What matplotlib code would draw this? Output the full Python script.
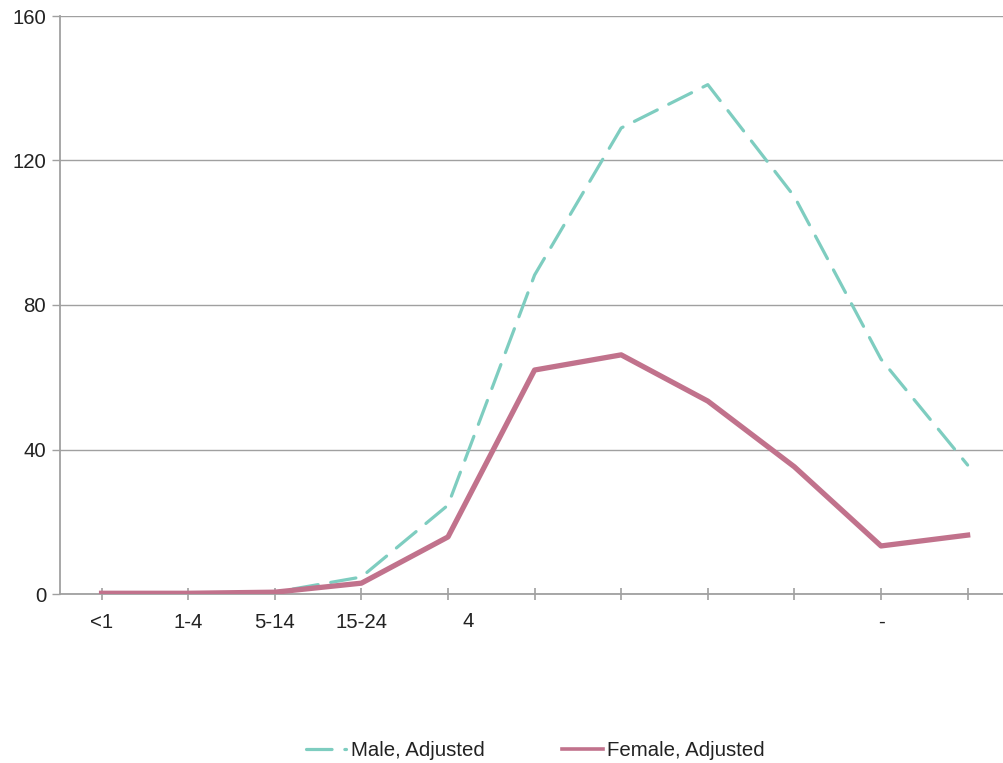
import matplotlib
matplotlib.use("Agg")
import matplotlib.pyplot as plt

# данные
age_groups = ['<1', '1-4', '5-14', '15-24', '', '', '', '', '', '-', '']
male_adj = [0.2, 0.2, 0.5, 4.7, 24.6, 88.3, 129.0, 141.0, 110.0, 65.0, 35.7]
female_adj = [0.2, 0.2, 0.5, 3.0, 15.8, 62.0, 66.2, 53.4, 35.2, 13.3, 16.3]
y_ticks = [0, 40, 80, 120, 160]
extra_label = '4'  # обрезанная подпись, стоит правее своей отметки

MALE_COLOR = '#7ecdc0'
FEMALE_COLOR = '#c1728c'
AXIS_COLOR = '#a0a0a0'
TEXT_COLOR = '#222222'
FS = 14.7

plt.rcParams['font.family'] = ['Liberation Sans', 'DejaVu Sans']

fig = plt.figure(figsize=(10.04, 7.63), dpi=100)
ax = fig.add_axes([60 / 1004, 1 - 594 / 763, 1 - 60 / 1004, (594 - 16) / 763])

x = list(range(len(age_groups)))
ax.plot(x, male_adj, color=MALE_COLOR, lw=2.3, dashes=(8, 4),
        dash_capstyle='round', label='Male, Adjusted', zorder=3)
ax.plot(x, female_adj, color=FEMALE_COLOR, lw=3.8,
        label='Female, Adjusted', zorder=4)

ax.set_ylim(0, 160)
ax.set_xlim(-0.48, 10.42)
ax.set_yticks(y_ticks)
ax.set_xticks(x)
ax.set_xticklabels(age_groups)

ax.annotate(extra_label, xy=(4, 0), xycoords=('data', 'axes fraction'),
            xytext=(14.5, -13.2), textcoords='offset points',
            ha='center', va='top', fontsize=FS, color=TEXT_COLOR)

ax.yaxis.grid(True, color=AXIS_COLOR, lw=1.0)
ax.set_axisbelow(True)
for side in ['top', 'right']:
    ax.spines[side].set_visible(False)
for side in ['left', 'bottom']:
    ax.spines[side].set_color(AXIS_COLOR)
    ax.spines[side].set_linewidth(1.3)

ax.tick_params(axis='x', direction='inout', length=9, width=1.2, color=AXIS_COLOR,
               labelsize=FS, labelcolor=TEXT_COLOR, pad=9)
ax.tick_params(axis='y', direction='out', length=6, width=1.0, color=AXIS_COLOR,
               labelsize=FS, labelcolor=TEXT_COLOR, pad=4)

leg = fig.legend(loc='center', bbox_to_anchor=(535 / 1004, 12 / 763), ncol=2, frameon=False,
                 fontsize=FS, handlelength=2.0, handletextpad=0.2, columnspacing=3.8,
                 labelcolor=TEXT_COLOR)
leg.get_lines()[1].set_linewidth(2.6)

fig.savefig("out.png", dpi=100)
